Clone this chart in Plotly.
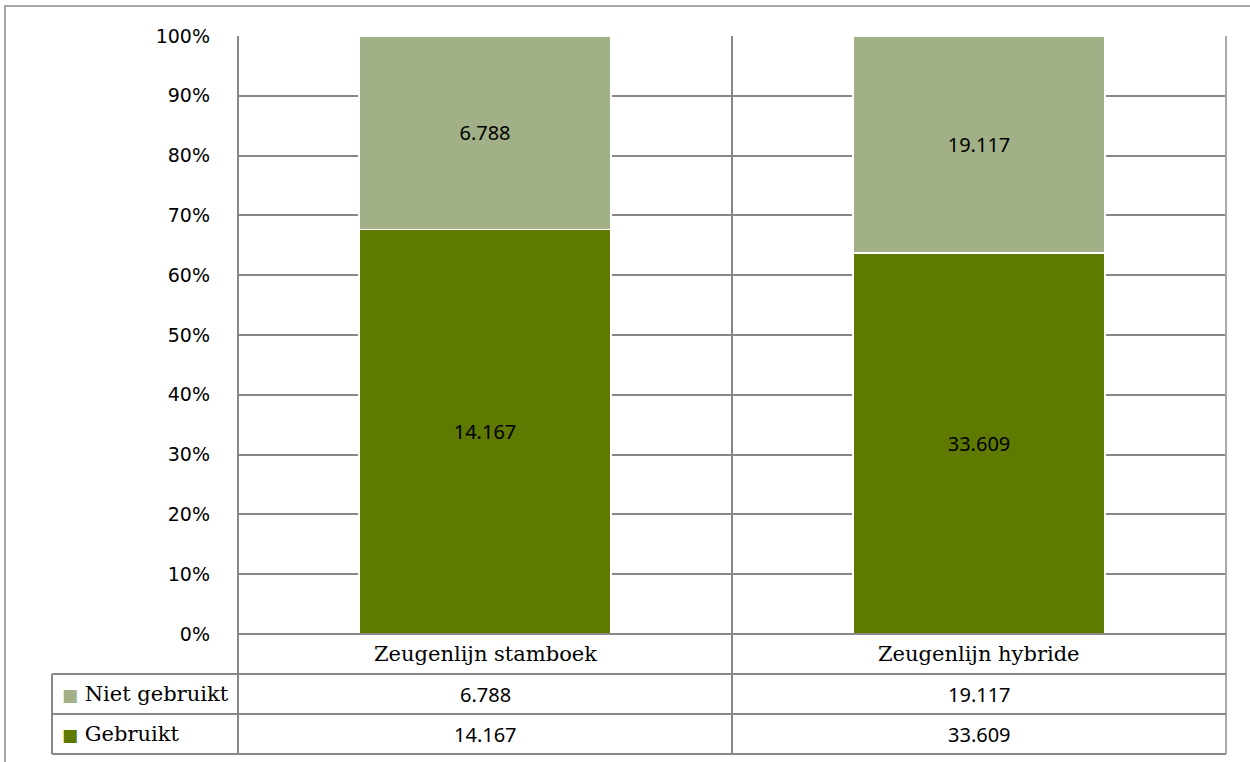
import plotly.graph_objects as go

# Data
categories = ["Zeugenlijn stamboek", "Zeugenlijn hybride"]
series_names = ["Gebruikt", "Niet gebruikt"]
gebruikt = [14167, 33609]
niet_gebruikt = [6788, 19117]
colors = {"Gebruikt": "#5f7a00", "Niet gebruikt": "#a2b088"}

W, H = 1250, 762
NUM_FONT = "Noto Sans"
TICK_FONT = "DejaVu Sans"
WORD_FONT = "DejaVu Serif"
GRID = "#888888"


def fmt(v):
    return f"{v:,}".replace(",", ".")


def px(x):
    return x / W


def py(y):
    return 1 - y / H


# plot area in pixels
X0, X1 = 238, 1226
Y_TOP, Y_BOT = 36, 634
ROW_H = 40
TABLE_LEFT = 52

fig = go.Figure()
for name, vals in [("Gebruikt", gebruikt), ("Niet gebruikt", niet_gebruikt)]:
    fig.add_trace(go.Bar(
        x=categories, y=vals, name=name,
        marker=dict(color=colors[name], line=dict(color="#ffffff", width=1.5)),
        text=[fmt(v) for v in vals], textposition="inside",
        insidetextanchor="middle", textangle=0,
        textfont=dict(family=NUM_FONT, size=20, color="#000000"),
        hoverinfo="skip",
    ))

fig.update_layout(
    width=W, height=H,
    margin=dict(l=0, r=0, t=0, b=0, autoexpand=False),
    paper_bgcolor="white", plot_bgcolor="white",
    barmode="stack", barnorm="percent", bargap=0.49,
    showlegend=False,
    font=dict(family=NUM_FONT, size=18, color="#000000"),
    xaxis=dict(domain=[px(X0), px(X1)], range=[-0.5, 1.5], automargin=False,
               showticklabels=False, showgrid=False, zeroline=False,
               showline=False),
    yaxis=dict(domain=[py(Y_BOT), py(Y_TOP)], range=[0, 100], automargin=False,
               tick0=0, dtick=10, ticksuffix="%",
               showgrid=True, gridcolor=GRID, gridwidth=1.6,
               zeroline=False, showline=False,
               ticklabelstandoff=27,
               tickfont=dict(family=TICK_FONT, size=19, color="#000000")),
)

shapes = []


def hline(x_a, x_b, y, color=GRID, width=2):
    shapes.append(dict(type="line", xref="paper", yref="paper",
                       x0=px(x_a), x1=px(x_b), y0=py(y), y1=py(y),
                       line=dict(color=color, width=width)))


def vline(x, y_a, y_b, color=GRID, width=2):
    shapes.append(dict(type="line", xref="paper", yref="paper",
                       x0=px(x), x1=px(x), y0=py(y_a), y1=py(y_b),
                       line=dict(color=color, width=width)))


n = len(categories)
col_w = (X1 - X0) / n
table_bottom = Y_BOT + ROW_H * (1 + len(series_names))

# column boundaries of the plot and data table
for k in range(n + 1):
    xb = X0 + k * col_w
    c = "#a8a8a8" if k == n else GRID
    vline(xb, Y_TOP, table_bottom, color=c)
vline(TABLE_LEFT, Y_BOT + ROW_H, table_bottom)

# table rows
hline(X0, X1, Y_BOT)
for r in range(1, len(series_names) + 2):
    hline(TABLE_LEFT, X1, Y_BOT + r * ROW_H)

# outer frame
shapes.append(dict(type="rect", xref="paper", yref="paper",
                   x0=px(5), x1=px(W + 5), y0=py(H + 5), y1=py(6),
                   line=dict(color="#8c8c8c", width=1.5)))

annotations = []
# category header row
for k, cat in enumerate(categories):
    annotations.append(dict(xref="paper", yref="paper",
                            x=px(X0 + (k + 0.5) * col_w), y=py(Y_BOT + ROW_H / 2),
                            xanchor="center", yanchor="middle",
                            text=cat, showarrow=False,
                            font=dict(family=WORD_FONT, size=21, color="#000000")))

# value rows: legend key on the left, values per category
rows = [("Niet gebruikt", niet_gebruikt), ("Gebruikt", gebruikt)]
for r, (name, vals) in enumerate(rows):
    yc = Y_BOT + ROW_H * (r + 1) + ROW_H / 2
    annotations.append(dict(xref="paper", yref="paper",
                            x=px(60), y=py(yc), xanchor="left", yanchor="middle",
                            text=f"<span style='color:{colors[name]};font-size:17px'>■</span> {name}",
                            showarrow=False,
                            font=dict(family=WORD_FONT, size=21, color="#000000")))
    for k, v in enumerate(vals):
        annotations.append(dict(xref="paper", yref="paper",
                                x=px(X0 + (k + 0.5) * col_w), y=py(yc),
                                xanchor="center", yanchor="middle",
                                text=fmt(v), showarrow=False,
                                font=dict(family=NUM_FONT, size=20, color="#000000")))

fig.update_layout(shapes=shapes, annotations=annotations)
fig.write_html("out.html")
